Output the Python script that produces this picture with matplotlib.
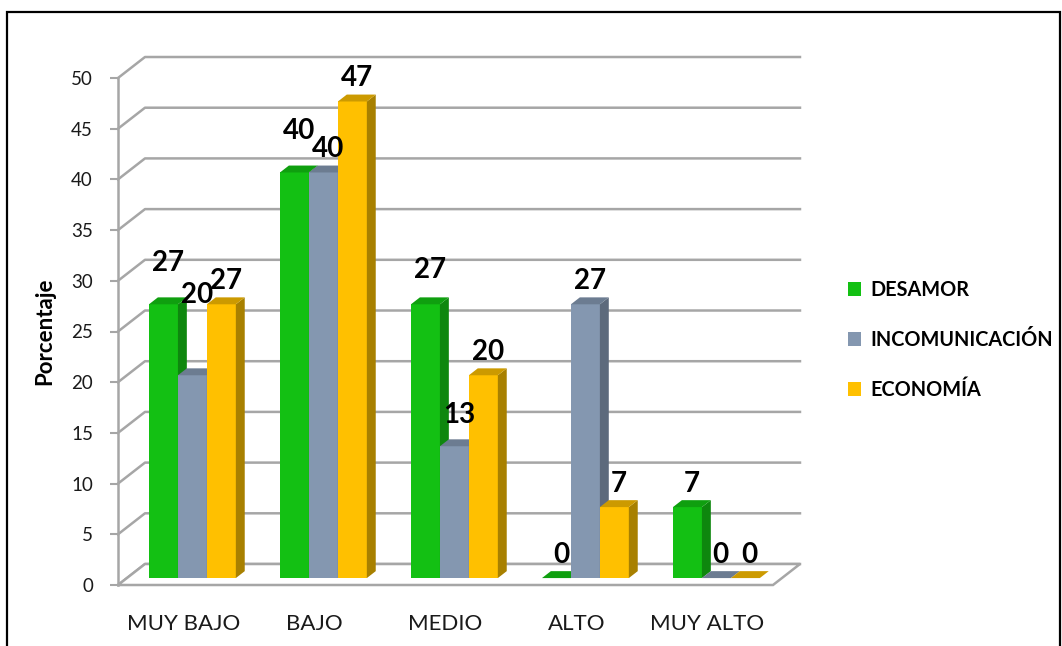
import matplotlib
matplotlib.use("Agg")
import matplotlib.pyplot as plt
from matplotlib.patches import Patch, Rectangle

categories = ["MUY BAJO", "BAJO", "MEDIO", "ALTO", "MUY ALTO"]
series_names = ["DESAMOR", "INCOMUNICACIÓN", "ECONOMÍA"]
desamor = [27, 40, 27, 0, 7]
incomunicacion = [20, 40, 13, 27, 0]
economia = [27, 47, 20, 7, 0]
yticks = [0, 5, 10, 15, 20, 25, 30, 35, 40, 45, 50]

# front / side / top colours per series
front = ["#13C013", "#8497B0", "#FFC000"]
side = ["#0E870E", "#5D6A7C", "#A88000"]
top = ["#0F9F0F", "#6C7C91", "#CC9A00"]

# fake 3d depth in data units
DX, DY = 0.206, 2.07
F1, F2 = 0.33, 0.66
W = 0.221

# extra lift (value units) for the labels excel pushed up, keyed (category, series)
nudge = {(0, 0): 1.8, (0, 1): 5.6, (1, 0): 1.8, (2, 0): 1.1, (2, 1): 0.8}

fig = plt.figure(figsize=(10.62, 6.46), dpi=100)
ax = fig.add_axes([118 / 1062, (646 - 585) / 646, (773 - 118) / 1062, (585 - 78) / 646])
ax.set_xlim(-0.5, 4.5)
ax.set_ylim(0, 50)
for s in ax.spines.values():
    s.set_visible(False)

grid_c = "#A6A6A6"
# back wall gridlines + diagonals
for t in yticks:
    ax.plot([-0.5, -0.5 + DX, 4.5 + DX], [t, t + DY, t + DY], color=grid_c,
            lw=1.8, clip_on=False, zorder=1)
# floor
ax.fill([-0.5, 4.5, 4.5 + DX, -0.5 + DX], [0, 0, DY, DY], facecolor="white",
        edgecolor=grid_c, lw=1.8, clip_on=False, zorder=1.5)
ax.plot([-0.5, -0.5], [0, 50], color=grid_c, lw=1.8, clip_on=False, zorder=2)

data = [desamor, incomunicacion, economia]
for k, vals in enumerate(data):
    xs = [i + (k - 1) * W + F1 * DX for i in range(len(categories))]
    ax.bar(xs, vals, W, bottom=F1 * DY, color=front[k], zorder=3 + k,
           clip_on=False, label=series_names[k])
    d = (F2 - F1)
    for i, v in enumerate(vals):
        x0 = xs[i] - W / 2
        x1 = xs[i] + W / 2
        yb = F1 * DY
        yt = v + F1 * DY
        ax.fill([x1, x1 + d * DX, x1 + d * DX, x1],
                [yb, yb + d * DY, yt + d * DY, yt],
                color=side[k], lw=0, zorder=3 + k, clip_on=False)
        ax.fill([x0, x1, x1 + d * DX, x0 + d * DX],
                [yt, yt, yt + d * DY, yt + d * DY],
                color=top[k], lw=0, zorder=3 + k, clip_on=False)
        lift = 1.5 + nudge.get((i, k), 0)
        ax.text(xs[i] + d * DX / 2, yt + lift, str(v), ha="center", va="baseline",
                fontsize=20, fontweight="bold", family="Lato", color="black",
                zorder=10)

ax.set_yticks(yticks)
ax.tick_params(axis="y", length=6, width=1.5, color=grid_c, pad=12,
               labelsize=13.5, labelcolor="#1a1a1a")
for lb in ax.get_yticklabels():
    lb.set_family("Lato")
ax.set_xticks(range(len(categories)))
ax.set_xticklabels(categories, family="Lato", fontsize=16, color="#1a1a1a")
ax.tick_params(axis="x", length=0, pad=21)

ax.set_ylabel("Porcentaje", family="Lato", fontweight="bold", fontsize=16)
ax.yaxis.set_label_coords(-0.096, 0.5)

handles = [Patch(facecolor=front[k], edgecolor="none") for k in range(3)]
fig.legend(handles, series_names, loc="center left",
           bbox_to_anchor=(848 / 1062, (646 - 340) / 646), frameon=False,
           prop={"family": "Lato", "weight": "bold", "size": 14.3},
           handlelength=0.67, handleheight=0.67, handletextpad=0.46,
           labelspacing=1.5, borderpad=0, borderaxespad=0)

fig.patches.append(Rectangle((7 / 1062, -0.1), 1053 / 1062, (646 - 12) / 646 + 0.1,
                             transform=fig.transFigure, fill=False,
                             edgecolor="black", lw=1.6))

fig.savefig("out.png", dpi=100)
